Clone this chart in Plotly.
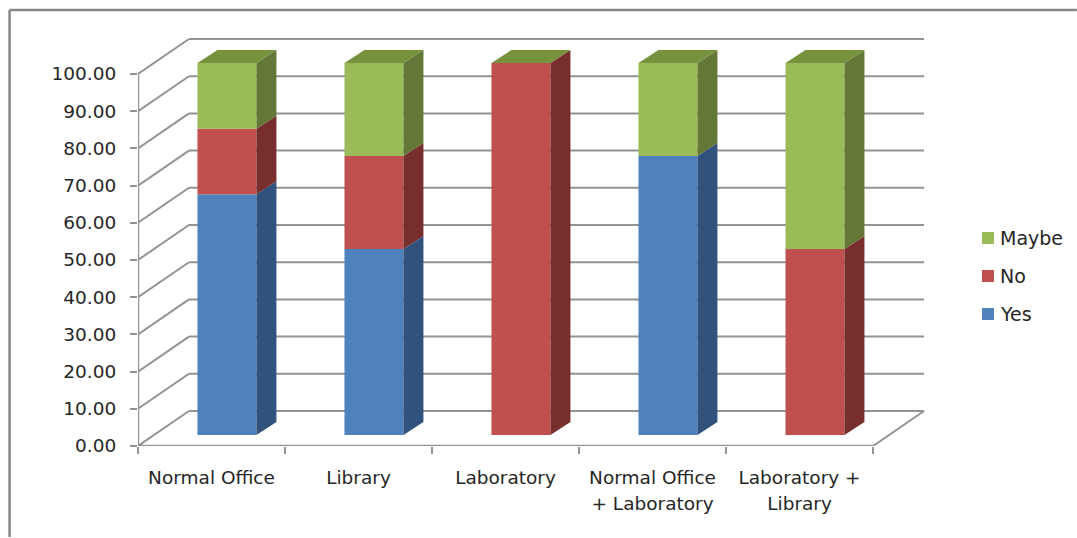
import plotly.graph_objects as go

categories = ["Normal Office", "Library", "Laboratory", "Normal Office<br>+ Laboratory", "Laboratory +<br>Library"]
yes_values = [64.7, 50, 0, 75, 0]
no_values = [17.65, 25, 100, 0, 50]
maybe_values = [17.65, 25, 0, 25, 50]
y_ticks = list(range(0, 101, 10))

series = [("Yes", yes_values, "#4f81bd", "#30527c"),
          ("No", no_values, "#c0504d", "#772e2c"),
          ("Maybe", maybe_values, "#9bbb59", "#637736")]
TOP_COLOR = "#76923c"

W, H = 1077, 538
L, R, T, B = 137.5, 930, 34, 446
UX, UY = 147.1, 3.72
WALL_DX, WALL_DY = 51 / UX, 35 / UY
BAR_DX, BAR_DY = 20 / UX, 13 / UY
BAR_W = 59 / UX
SHIFT_X, LIFT = 0.105, 11 / UY
LINE = "#939393"
FONT = "DejaVu Sans"
TEXT = "#262626"
SIZE = 18.5

def px(x):
    return (x - L) / (R - L)

def py(y):
    return (B - y) / (B - T)

fig = go.Figure()
shapes = []

def line(x0, y0, x1, y1, w=2, color=LINE, ref="x"):
    shapes.append(dict(type="line", layer="below", xref=ref, yref="y" if ref == "x" else "paper",
                       x0=x0, y0=y0, x1=x1, y1=y1, line=dict(color=color, width=w)))

n = len(categories)
for v in y_ticks:
    line(0, v, WALL_DX, v + WALL_DY)
    line(WALL_DX, v + WALL_DY, n + WALL_DX, v + WALL_DY)
line(0, 0, 0, 100, 2.4)
line(0, 0, n, 0, 2.4)
line(n, 0, n + WALL_DX, WALL_DY)
line(px(9), py(537), px(9), py(10), 2.5, "#868686", "paper")
line(px(9), py(10), px(1077), py(10), 2.5, "#868686", "paper")

xs = [i + 0.5 + SHIFT_X for i in range(n)]
base = [LIFT] * n
for name, vals, col, dark in series:
    fig.add_trace(go.Bar(x=xs, y=vals, base=list(base), width=BAR_W, name=name,
                         marker=dict(color=col, line=dict(width=0)), showlegend=False))
    for i, v in enumerate(vals):
        if v > 0:
            xr = xs[i] + BAR_W / 2
            y0, y1 = base[i], base[i] + v
            fig.add_trace(go.Scatter(
                x=[xr, xr + BAR_DX, xr + BAR_DX, xr, xr],
                y=[y0, y0 + BAR_DY, y1 + BAR_DY, y1, y0],
                mode="lines", fill="toself", fillcolor=dark, line=dict(width=0),
                hoverinfo="skip", showlegend=False))
    base = [b + v for b, v in zip(base, vals)]

for i in range(n):
    xl, xr = xs[i] - BAR_W / 2, xs[i] + BAR_W / 2
    fig.add_trace(go.Scatter(
        x=[xl, xr, xr + BAR_DX, xl + BAR_DX, xl],
        y=[base[i], base[i], base[i] + BAR_DY, base[i] + BAR_DY, base[i]],
        mode="lines", fill="toself", fillcolor=TOP_COLOR, line=dict(width=0),
        hoverinfo="skip", showlegend=False))

annotations = []
for (name, vals, col, dark), yc in zip(series, [314, 276, 238]):
    shapes.append(dict(type="rect", xref="paper", yref="paper", x0=px(982), x1=px(994),
                       y0=py(yc + 6), y1=py(yc - 6), fillcolor=col, line=dict(width=0)))
    annotations.append(dict(text=name, xref="paper", yref="paper", x=px(998), y=py(yc),
                            xanchor="left", yanchor="middle", showarrow=False,
                            font=dict(family=FONT, size=19, color=TEXT)))

fig.update_layout(
    width=W, height=H, autosize=False, paper_bgcolor="white", plot_bgcolor="white",
    margin=dict(l=L, r=W - R, t=T, b=H - B),
    barmode="overlay", showlegend=False, shapes=shapes, annotations=annotations,
    xaxis=dict(range=[0, (R - L) / UX], showgrid=False, zeroline=False, showline=False,
               tickvals=[i + 0.5 for i in range(n)],
               ticktext=[f'<span style="font-size:{SIZE}px">' + c.replace("<br>", f'</span><br><span style="font-size:{SIZE}px">') + "</span>" for c in categories],
               ticks="", tickfont=dict(family=FONT, size=20, color=TEXT),
               ticklabelstandoff=17,
               minor=dict(tickvals=list(range(n + 1)), ticks="outside", ticklen=7, tickwidth=2, tickcolor=LINE, showgrid=False)),
    yaxis=dict(range=[0, (B - T) / UY], showgrid=False, zeroline=False, showline=False,
               tickvals=y_ticks, ticktext=[f"{v:.2f}" for v in y_ticks],
               ticks="outside", ticklen=7, tickwidth=2, tickcolor=LINE,
               tickfont=dict(family=FONT, size=SIZE, color=TEXT), ticklabelstandoff=10),
)
fig.write_html("out.html", config=dict(displayModeBar=False), post_script="document.body.style.margin='0';")
